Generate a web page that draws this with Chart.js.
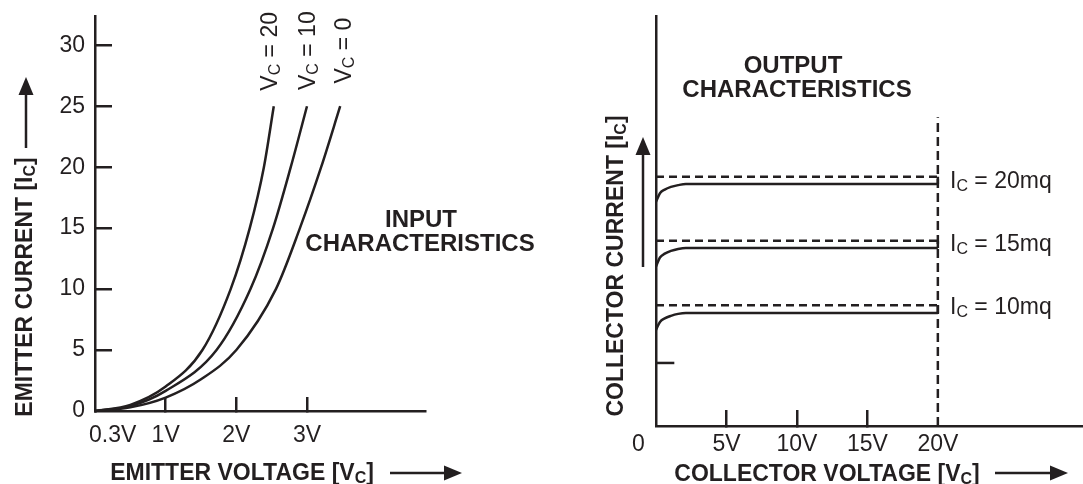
<!DOCTYPE html>
<html>
<head>
<meta charset="utf-8">
<script src="https://cdn.jsdelivr.net/npm/chart.js@4.4.1/dist/chart.umd.min.js"></script>
<style>
  html, body { margin: 0; padding: 0; background: #ffffff; }
  #wrap { position: relative; width: 1083px; height: 484px; overflow: hidden; background: #ffffff; }
  canvas { position: absolute; left: 0; top: 0; }
</style>
</head>
<body>
<div id="wrap">
  <canvas id="cIn" width="1083" height="484" style="width:1083px;height:484px"></canvas>
  <canvas id="cOut" width="1083" height="484" style="width:1083px;height:484px"></canvas>
</div>
<script>
// ---------------- DATA ----------------
// Input characteristics: emitter voltage (V) vs emitter current, one curve per collector voltage
const inCurveNames = ['V_C = 20', 'V_C = 10', 'V_C = 0'];
const inVc20 = [[0,0],[0.5,0.5],[1.0,2.0],[1.52,5],[1.92,10],[2.19,15],[2.39,20],[2.53,25]];
const inVc10 = [[0,0],[0.5,0.4],[1.0,1.65],[1.72,5],[2.2,10],[2.52,15],[2.77,20],[3.0,25]];
const inVc0  = [[0,0],[0.5,0.3],[1.0,1.1],[1.5,2.6],[2.0,5],[2.56,10],[2.9,15],[3.2,20],[3.47,25]];
const inYTickValues = [0, 5, 10, 15, 20, 25, 30];
const inYTickLabels = ['0', '5', '10', '15', '20', '25', '30'];
const inXTickValues = [0.25, 1, 2, 3];
const inXTickLabels = ['0.3V', '1V', '2V', '3V'];

// Output characteristics: collector voltage (V) vs collector current (arbitrary units)
const outCurveLabels = ['I_C = 20mq', 'I_C = 15mq', 'I_C = 10mq'];
const outIc20 = [[0,17.5],[0.28,18.17],[0.62,18.45],[1.06,18.66],[1.57,18.8],[2.12,18.89],[20,18.89]];
const outIc15 = [[0,12.45],[0.28,13.15],[0.62,13.45],[1.06,13.67],[1.57,13.82],[2.12,13.9],[20,13.9]];
const outIc10 = [[0,7.5],[0.28,8.12],[0.62,8.4],[1.06,8.6],[1.57,8.75],[2.12,8.82],[20,8.82]];
const outRef20 = [[0,19.45],[20,19.45]];
const outRef15 = [[0,14.45],[20,14.45]];
const outRef10 = [[0,9.42],[20,9.42]];
const outLimit = [[20,0],[20,24.1]];
const outJoins = [[20,18.89],[20,19.45],[20,null],[20,13.9],[20,14.45],[20,null],[20,8.82],[20,9.42]];
const outMark = [[0,4.92],[1.3,4.92]];
const outXTickValues = [-1.25, 5, 10, 15, 20];
const outXTickLabels = ['0', '5V', '10V', '15V', '20V'];

// ---------------- STYLE ----------------
const INK = '#231f20';
const FONT = "'Liberation Sans', Arial, Helvetica, sans-serif";
const CLEAR = 'rgba(0,0,0,0)';
Chart.defaults.font.family = FONT;
Chart.defaults.color = INK;

const pts = arr => arr.map(p => ({ x: p[0], y: p[1] }));

function lineDs(arr, opts) {
  return Object.assign({
    data: pts(arr),
    borderColor: INK,
    borderWidth: 2.5,
    pointRadius: 0,
    pointHoverRadius: 0,
    fill: false,
    tension: 0,
    clip: false,
    spanGaps: false
  }, opts || {});
}

// rich text: parts = [[text, isSub], ...]
function drawRich(ctx, parts, x, y, opt) {
  const size = opt.size || 23;
  const subSize = opt.subSize || 16;
  const weight = opt.bold ? 'bold ' : '';
  const mainFont = weight + size + 'px ' + FONT;
  const subFont = weight + subSize + 'px ' + FONT;
  ctx.save();
  ctx.translate(x, y);
  if (opt.rot) ctx.rotate(opt.rot);
  ctx.fillStyle = INK;
  ctx.textBaseline = 'alphabetic';
  ctx.textAlign = 'left';
  let total = 0;
  const widths = parts.map(p => { ctx.font = p[1] ? subFont : mainFont; const w = ctx.measureText(p[0]).width; total += w; return w; });
  let cx = opt.align === 'center' ? -total / 2 : 0;
  parts.forEach((p, i) => {
    ctx.font = p[1] ? subFont : mainFont;
    ctx.fillText(p[0], cx, p[1] ? 3 : 0);
    cx += widths[i];
  });
  ctx.restore();
}

function arrow(ctx, x1, y1, x2, y2) {
  const ang = Math.atan2(y2 - y1, x2 - x1);
  const hl = 18, hw = 7.5;
  const bx = x2 - hl * Math.cos(ang), by = y2 - hl * Math.sin(ang);
  ctx.save();
  ctx.strokeStyle = INK; ctx.fillStyle = INK; ctx.lineWidth = 2.5;
  ctx.beginPath(); ctx.moveTo(x1, y1); ctx.lineTo(bx, by); ctx.stroke();
  ctx.beginPath();
  ctx.moveTo(x2, y2);
  ctx.lineTo(bx + hw * Math.sin(ang), by - hw * Math.cos(ang));
  ctx.lineTo(bx - hw * Math.sin(ang), by + hw * Math.cos(ang));
  ctx.closePath(); ctx.fill();
  ctx.restore();
}

function subParts(label) {
  const m = label.match(/^(.)_(.)(.*)$/);
  return [[m[1], 0], [m[2], 1], [m[3], 0]];
}

// ---------------- INPUT CHART ----------------
const inDecor = {
  id: 'inDecor',
  afterDraw(chart) {
    const ctx = chart.ctx;
    const lblPos = [[276.5, 90.7], [315, 90], [350.5, 83.5]];
    inCurveNames.forEach((n, i) => drawRich(ctx, subParts(n), lblPos[i][0], lblPos[i][1], { rot: -Math.PI / 2 }));
    drawRich(ctx, [['INPUT', 0]], 421, 227, { bold: true, size: 24, align: 'center' });
    drawRich(ctx, [['CHARACTERISTICS', 0]], 420, 251, { bold: true, size: 24, align: 'center' });
    drawRich(ctx, [['EMITTER VOLTAGE [V', 0], ['C', 1], [']', 0]], 242, 480, { bold: true, align: 'center' });
    drawRich(ctx, [['EMITTER CURRENT [I', 0], ['C', 1], [']', 0]], 32, 287, { bold: true, align: 'center', rot: -Math.PI / 2 });
    arrow(ctx, 390, 473, 462, 473);
    arrow(ctx, 26, 148, 26, 77);
  }
};

new Chart(document.getElementById('cIn'), {
  type: 'line',
  data: {
    datasets: [
      lineDs(inVc20, { label: 'V_C = 20', cubicInterpolationMode: 'monotone' }),
      lineDs(inVc10, { label: 'V_C = 10', cubicInterpolationMode: 'monotone' }),
      lineDs(inVc0,  { label: 'V_C = 0',  cubicInterpolationMode: 'monotone' })
    ]
  },
  options: {
    responsive: false,
    animation: false,
    events: [],
    layout: { padding: { left: 0, top: 16, right: 1083 - 425, bottom: 0 } },
    plugins: { legend: { display: false }, tooltip: { enabled: false }, title: { display: false } },
    scales: {
      x: {
        type: 'linear', position: 'bottom', min: 0, max: 4.67,
        afterBuildTicks: s => { s.ticks = inXTickValues.map(v => ({ value: v })); },
        afterFit: s => { s.height = 484 - 411; s.paddingLeft = 0; s.paddingRight = 0; },
        grid: { display: true, drawOnChartArea: false, drawTicks: true, tickLength: -14, lineWidth: 2.5,
                color: c => (c.tick && c.tick.value < 0.5) ? CLEAR : INK },
        border: { display: true, color: INK, width: 2.5 },
        ticks: { autoSkip: false, maxRotation: 0, padding: 25, color: INK, font: { size: 23 },
                 callback: (v, i) => inXTickLabels[i] }
      },
      y: {
        type: 'linear', position: 'left', min: 0, max: 32.4,
        afterBuildTicks: s => { s.ticks = inYTickValues.map(v => ({ value: v })); },
        afterFit: s => { s.width = 95; s.paddingTop = 0; s.paddingBottom = 0; },
        grid: { display: true, drawOnChartArea: false, drawTicks: true, tickLength: -17, lineWidth: 2.5,
                color: c => (c.tick && c.tick.value === 0) ? CLEAR : INK },
        border: { display: true, color: INK, width: 2.5 },
        ticks: { autoSkip: false, padding: 27, color: INK, font: { size: 23 },
                 callback: (v, i) => inYTickLabels[i] }
      }
    }
  },
  plugins: [inDecor]
});

// ---------------- OUTPUT CHART ----------------
const outDecor = {
  id: 'outDecor',
  afterDraw(chart) {
    const ctx = chart.ctx;
    const base = [188, 250.5, 314];
    outCurveLabels.forEach((n, i) => drawRich(ctx, subParts(n), 950, base[i], {}));
    drawRich(ctx, [['OUTPUT', 0]], 793, 73, { bold: true, size: 24, align: 'center' });
    drawRich(ctx, [['CHARACTERISTICS', 0]], 797, 97, { bold: true, size: 24, align: 'center' });
    drawRich(ctx, [['COLLECTOR VOLTAGE [V', 0], ['C', 1], [']', 0]], 827, 481, { bold: true, align: 'center' });
    drawRich(ctx, [['COLLECTOR CURRENT [I', 0], ['C', 1], [']', 0]], 623, 266, { bold: true, align: 'center', rot: -Math.PI / 2 });
    arrow(ctx, 995, 473, 1068, 473);
    arrow(ctx, 643, 267, 643, 137);
  }
};

new Chart(document.getElementById('cOut'), {
  type: 'line',
  data: {
    datasets: [
      lineDs(outIc20, { label: 'I_C = 20mq', cubicInterpolationMode: 'monotone' }),
      lineDs(outIc15, { label: 'I_C = 15mq', cubicInterpolationMode: 'monotone' }),
      lineDs(outIc10, { label: 'I_C = 10mq', cubicInterpolationMode: 'monotone' }),
      lineDs(outRef20, { label: 'ref 20', borderDash: [8, 5] }),
      lineDs(outRef15, { label: 'ref 15', borderDash: [8, 5] }),
      lineDs(outRef10, { label: 'ref 10', borderDash: [8, 5] }),
      lineDs(outLimit, { label: 'limit', borderDash: [9, 5] }),
      lineDs(outJoins, { label: 'joins' }),
      lineDs(outMark, { label: 'mark' })
    ]
  },
  options: {
    responsive: false,
    animation: false,
    events: [],
    layout: { padding: { left: 0, top: 16, right: 0, bottom: 0 } },
    plugins: { legend: { display: false }, tooltip: { enabled: false }, title: { display: false } },
    scales: {
      x: {
        type: 'linear', position: 'bottom', min: 0, max: 30.3,
        afterBuildTicks: s => { s.ticks = outXTickValues.map(v => ({ value: v })); },
        afterFit: s => { s.height = 484 - 426; s.paddingLeft = 0; s.paddingRight = 0; },
        grid: { display: true, drawOnChartArea: false, drawTicks: true, tickLength: -16, lineWidth: 2.5,
                color: c => (c.tick && (c.tick.value < 0 || c.tick.value === 20)) ? CLEAR : INK },
        border: { display: true, color: INK, width: 2.5 },
        ticks: { autoSkip: false, maxRotation: 0, padding: 21, color: INK, font: { size: 23 },
                 callback: (v, i) => outXTickLabels[i] }
      },
      y: {
        type: 'linear', position: 'left', min: 0, max: 32,
        afterFit: s => { s.width = 656; s.paddingTop = 0; s.paddingBottom = 0; },
        grid: { display: false },
        border: { display: true, color: INK, width: 2.5 },
        ticks: { display: false }
      }
    }
  },
  plugins: [outDecor]
});
</script>
</body>
</html>
